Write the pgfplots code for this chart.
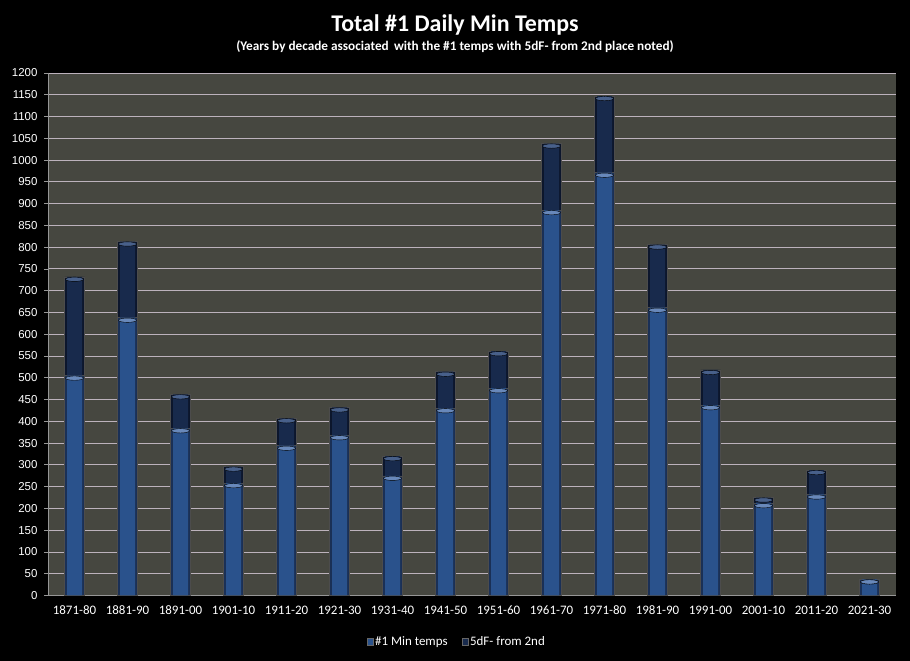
\documentclass[border=0pt]{standalone}
\usepackage{fontspec}
\setmainfont{Carlito}
\newfontfamily\tickfont{Liberation Sans}
\usepackage{pgfplots}
\usepackage{pgfplotstable}
\pgfplotsset{compat=1.18}
\definecolor{plotbg}{RGB}{70,71,64}
\definecolor{gridc}{RGB}{188,178,188}
\definecolor{axisc}{RGB}{150,150,150}
\definecolor{blueE}{RGB}{26,48,86}
\definecolor{blueM}{RGB}{42,82,140}
\definecolor{navyE}{RGB}{12,22,44}
\definecolor{navyM}{RGB}{24,42,76}
\definecolor{capA}{RGB}{104,136,186}
\definecolor{capB}{RGB}{72,96,138}

\pgfplotstableread{
x base top tot
0 505 227 732
1 638 175 813
2 384 78 462
3 258 38 296
4 344 63 407
5 368 64 432
6 275 45 320
7 430 84 514
8 476 85 561
9 885 153 1038
10 971 176 1147
11 661 145 806
12 437 81 518
13 212 13 225
14 232 56 288
15 37 0 37
}\data

\pgfplotsset{
  geom/.style={at={(48bp,65.5bp)}, anchor=south west,
    scale only axis, width=848bp, height=522.5bp,
    xmin=-0.5, xmax=15.5, ymin=0, ymax=1200},
}

\begin{document}
\begin{tikzpicture}
\fill[black] (0bp,0bp) rectangle (910bp,661bp);
\node[white, font=\bfseries\fontsize{24}{27}\selectfont] at (455bp,636bp) {Total \#1 Daily Min Temps};
\node[white, font=\bfseries\fontsize{13.3}{15}\selectfont] at (455bp,614bp) {(Years by decade associated\, with the \#1 temps with 5dF- from 2nd place noted)};
\begin{axis}[geom,
  ybar stacked, bar width=20bp,
  axis background/.style={fill=plotbg},
  ymajorgrids, grid style={gridc, line width=0.9bp},
  axis x line*=bottom, axis y line*=left,
  axis line style={axisc, line width=0.8bp, -},
  xtick={0,...,15},
  xticklabels={1871-80,1881-90,1891-00,1901-10,1911-20,1921-30,1931-40,1941-50,1951-60,1961-70,1971-80,1981-90,1991-00,2001-10,2011-20,2021-30},
  major x tick style={draw=none},
  extra x ticks={-0.5,0.5,...,15.5},
  extra x tick labels={},
  extra x tick style={major tick length=5bp, tick align=outside, tick style={axisc, line width=0.8bp}},
  xticklabel style={white, font=\fontsize{13}{15}\selectfont, yshift=-3bp},
  ytick={0,50,...,1200},
  major y tick style={axisc, line width=0.8bp},
  tick align=outside, major tick length=4bp,
  yticklabel style={white, font=\tickfont\fontsize{11.5}{13}\selectfont, xshift=-3bp},
  /pgf/number format/assume math mode=true,
  /pgf/number format/1000 sep={},
  legend style={at={(0.482,-0.089)}, anchor=center, draw=none, fill=none,
    text=white, font=\fontsize{13}{15}\selectfont, legend columns=2,
    /tikz/every even column/.append style={column sep=12bp}},
]
\addplot[draw=black!70, line width=0.5bp, fill=blueE,
  legend image code/.code={\fill[blueM, draw=black!60] (0bp,-3.5bp) rectangle (6bp,3.5bp);}] table[x=x, y=base] {\data};
\addplot[draw=black!70, line width=0.5bp, fill=navyE,
  legend image code/.code={\fill[navyM, draw=black!60] (0bp,-3.5bp) rectangle (6bp,3.5bp);}] table[x=x, y=top] {\data};
\legend{\#1 Min temps, 5dF- from 2nd}
\end{axis}
\begin{axis}[geom, hide axis, ybar stacked, bar width=15bp]
\addplot[draw=none, fill=blueM] table[x=x, y=base] {\data};
\addplot[draw=none, fill=navyM] table[x=x, y=top] {\data};
\end{axis}
\begin{axis}[geom, hide axis, clip=false]
\addplot[only marks, mark=*, mark size=9bp,
  mark options={draw=none, fill=capB, yscale=0.24, yshift=-10.5bp}] table[x=x, y=tot] {\data};
\addplot[only marks, mark=*, mark size=9bp,
  mark options={draw=none, fill=capA, yscale=0.24, yshift=-10.5bp}] table[x=x, y=base] {\data};
\end{axis}
\end{tikzpicture}
\end{document}
